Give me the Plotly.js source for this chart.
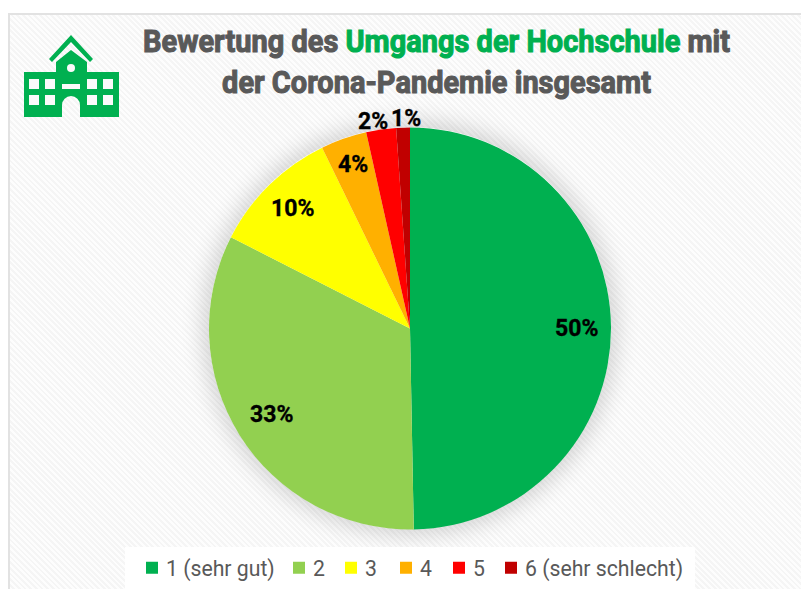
<!DOCTYPE html>
<html><head><meta charset="utf-8">
<script src="https://cdn.plot.ly/plotly-3.0.1.min.js"></script>
<style>
html,body{margin:0;padding:0;background:#fff;width:801px;height:589px;overflow:hidden}
#panel{position:absolute;left:8px;top:13px;width:793px;height:576px;box-sizing:border-box;border:1px solid #e2e2e2;border-width:2px 0 0 2px;
background:repeating-linear-gradient(45deg,#fdfdfd 0,#fdfdfd 2px,#f5f5f5 2px,#f5f5f5 4px)}
#glow{position:absolute;left:209px;top:127px;width:402px;height:402px;border-radius:50%;box-shadow:0 0 22px 6px rgba(0,0,0,.16)}
#chart{position:absolute;left:0;top:0;width:801px;height:589px}
#chart .gtitle{transform:scale(.906,1);transform-origin:436.5px 0;stroke:#595959;stroke-width:1.1px}
#chart .gtitle tspan[style*="rgb(0, 176, 80)"],#chart .gtitle tspan[style*="00b050"]{stroke:#00b050}
#chart .annotation-text{stroke:#000;stroke-width:.35px}
#chart .legendtext{transform-box:fill-box;transform-origin:0 50%;transform:translateX(-6px) scale(.965,1)}
</style></head><body>
<div id="panel"></div><div id="glow"></div><div id="chart"></div>
<script>
const categories=["1 (sehr gut)","2","3","4","5","6 (sehr schlecht)"];
const values=[49.7,32.8,10.3,3.7,2.4,1.1];
const colors=["#00b050","#92d050","#ffff00","#ffb000","#ff0000","#c00000"];
const labelRadius=[0.83,0.81,0.835,0.86,1.05,1.045];
const labelShiftX=[0,0,0,0,-7,3];
const labelShiftY=[-2,0,0,0,-2,0];
const legendSwatchX=[146,293,345,400,453,505];
const icon='<svg xmlns="http://www.w3.org/2000/svg" viewBox="0 0 95 83"><g fill="#00b050"><path d="M0 37H32V27L47 15 63 27V37H95V82H56V70A9 9 0 0 0 38 70V82H0Z"/><path d="M25 24L47 0 69 24 66 27 47 7 28 27Z"/></g><g fill="#fafafa"><circle cx="47" cy="33" r="4"/><rect x="38" y="49" width="18" height="5"/><rect x="5" y="44" width="10" height="10"/><rect x="21" y="44" width="10" height="10"/><rect x="63" y="44" width="10" height="10"/><rect x="79" y="44" width="10" height="10"/><rect x="5" y="60" width="10" height="10"/><rect x="21" y="60" width="10" height="10"/><rect x="63" y="60" width="10" height="10"/><rect x="79" y="60" width="10" height="10"/></g></svg>';
const W=801,H=589,cx=410,cy=328,R=201;
const total=values.reduce((a,b)=>a+b,0);
let cum=0;
const annotations=values.map((v,i)=>{
  const a=(cum+v/2)/total*2*Math.PI;cum+=v;
  return {xref:'paper',yref:'paper',showarrow:false,xanchor:'center',yanchor:'middle',
    x:(cx+labelRadius[i]*R*Math.sin(a))/W,y:1-(cy-labelRadius[i]*R*Math.cos(a))/H,
    xshift:labelShiftX[i],yshift:labelShiftY[i],
    text:'<b>'+Math.round(v/total*100)+'%</b>',
    font:{family:'Roboto,sans-serif',size:23,color:'#000'}};
});
const titleFont='Roboto,sans-serif';
Plotly.newPlot('chart',[{
  type:'pie',labels:categories,values:values,sort:false,direction:'clockwise',rotation:0,
  marker:{colors:colors,line:{width:0}},textinfo:'none',
  domain:{x:[209/W,611/W],y:[1-530/H,1-127/H]},automargin:false
}],{
  width:W,height:H,paper_bgcolor:'rgba(0,0,0,0)',plot_bgcolor:'rgba(0,0,0,0)',
  margin:{l:0,r:0,t:0,b:0},
  title:{text:'<b>Bewertung des <span style="color:#00b050">Umgangs der Hochschule</span> mit<br>der Corona-Pandemie insgesamt</b>',
    font:{family:titleFont,size:32,color:'#595959'},x:0.545,xanchor:'center',y:0.912,yanchor:'middle'},
  legend:{orientation:'h',x:0.512,xanchor:'center',y:0,yanchor:'bottom',bgcolor:'#ffffff',
    font:{family:titleFont,size:22,color:'#595959'},itemwidth:30,traceorder:'normal'},
  annotations:annotations,
  images:[{source:'data:image/svg+xml;utf8,'+encodeURIComponent(icon),xref:'paper',yref:'paper',x:24/W,y:1-35/H,sizex:95/W,sizey:83/H,xanchor:'left',yanchor:'top',sizing:'stretch',layer:'above'}],
  showlegend:true
},{displayModeBar:false,staticPlot:true}).then(gd=>{
  gd.querySelectorAll('.legend .traces').forEach((g,i)=>{
    const sw=g.querySelector('.legendpoints path').getBoundingClientRect();
    const m=/translate\(([-\d.]+)[ ,]*([-\d.]+)?\)/.exec(g.getAttribute('transform'));
    const dx=legendSwatchX[i]-sw.left;
    g.setAttribute('transform','translate('+(parseFloat(m[1])+dx)+','+(m[2]||0)+')');
  });
  const bg=gd.querySelector('.legend .bg');
  const b=bg.getBoundingClientRect();
  bg.setAttribute('x',(parseFloat(bg.getAttribute('x'))||0)+125-b.left);
  bg.setAttribute('width',570);
});
</script></body></html>
